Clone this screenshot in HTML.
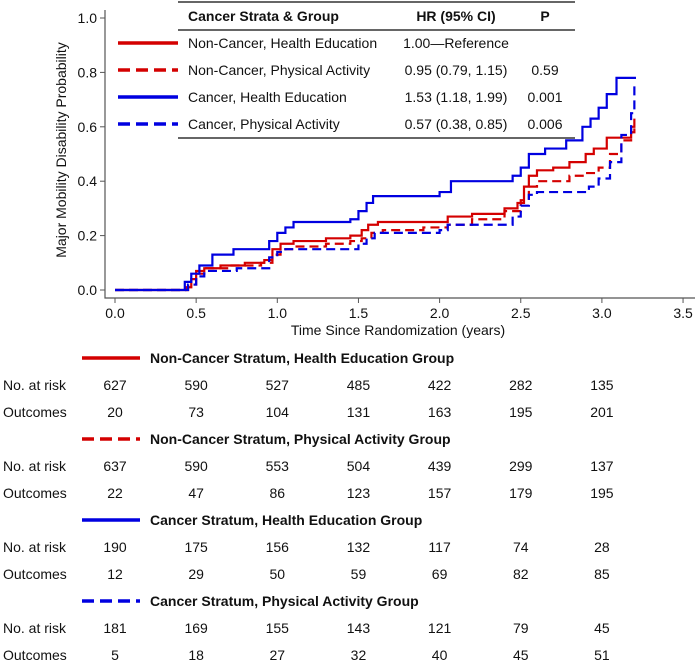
<!DOCTYPE html>
<html><head><meta charset="utf-8"><style>
body{margin:0;background:#fff;width:700px;height:663px;overflow:hidden;font-family:"Liberation Sans",Arial,sans-serif}
svg text{font-family:"Liberation Sans",Arial,sans-serif;fill:#111}
</style></head><body>
<svg id="c" width="700" height="663" viewBox="0 0 700 663"></svg>
<script>
const xTicks=[0,0.5,1,1.5,2,2.5,3,3.5];
const xTickLabels=["0.0","0.5","1.0","1.5","2.0","2.5","3.0","3.5"];
const yTicks=[0,0.2,0.4,0.6,0.8,1.0];
const yTickLabels=["0.0","0.2","0.4","0.6","0.8","1.0"];
const ncHeT=[0,0.44,0.47,0.5,0.55,0.65,0.8,0.92,0.97,1.02,1.1,1.3,1.45,1.52,1.56,1.62,1.8,2.0,2.05,2.2,2.4,2.48,2.52,2.55,2.6,2.7,2.8,2.85,2.9,2.95,3.03,3.18,3.2];
const ncHeY=[0,0.01,0.04,0.07,0.08,0.09,0.1,0.11,0.15,0.17,0.18,0.19,0.2,0.22,0.24,0.25,0.25,0.25,0.27,0.28,0.3,0.32,0.38,0.42,0.44,0.45,0.47,0.47,0.5,0.52,0.56,0.6,0.63];
const ncPaT=[0,0.45,0.5,0.55,0.7,0.9,0.97,1.02,1.1,1.3,1.45,1.52,1.58,1.65,1.9,2.05,2.2,2.4,2.5,2.55,2.6,2.8,2.9,2.98,3.05,3.12,3.18,3.2];
const ncPaY=[0,0.02,0.06,0.08,0.09,0.1,0.13,0.15,0.16,0.17,0.18,0.19,0.21,0.22,0.23,0.24,0.26,0.29,0.33,0.38,0.4,0.42,0.43,0.45,0.5,0.55,0.58,0.6];
const cHeT=[0,0.43,0.47,0.52,0.6,0.73,0.95,1.0,1.05,1.1,1.45,1.5,1.55,1.59,1.69,2.0,2.07,2.39,2.45,2.5,2.55,2.65,2.78,2.85,2.88,2.93,2.98,3.03,3.09,3.21];
const cHeY=[0,0.03,0.06,0.09,0.13,0.15,0.18,0.21,0.23,0.25,0.26,0.29,0.32,0.345,0.345,0.36,0.4,0.4,0.42,0.45,0.5,0.52,0.55,0.55,0.6,0.63,0.67,0.72,0.78,0.78];
const cPaT=[0,0.45,0.5,0.55,0.75,0.95,1.0,1.05,1.5,1.55,1.6,2.0,2.05,2.45,2.5,2.55,2.6,2.85,2.92,2.98,3.05,3.12,3.18,3.2];
const cPaY=[0,0.02,0.05,0.07,0.08,0.12,0.14,0.15,0.17,0.19,0.21,0.22,0.24,0.27,0.31,0.35,0.36,0.36,0.38,0.41,0.47,0.57,0.65,0.75];
const groupNames=["Non-Cancer, Health Education","Non-Cancer, Physical Activity","Cancer, Health Education","Cancer, Physical Activity"];
const hrText=["1.00\u2014Reference","0.95 (0.79, 1.15)","1.53 (1.18, 1.99)","0.57 (0.38, 0.85)"];
const pText=["","0.59","0.001","0.006"];
const strataNames=["Non-Cancer Stratum, Health Education Group","Non-Cancer Stratum, Physical Activity Group","Cancer Stratum, Health Education Group","Cancer Stratum, Physical Activity Group"];
const atRisk=[[627,590,527,485,422,282,135],[637,590,553,504,439,299,137],[190,175,156,132,117,74,28],[181,169,155,143,121,79,45]];
const outcomes=[[20,73,104,131,163,195,201],[22,47,86,123,157,179,195],[12,29,50,59,69,82,85],[5,18,27,32,40,45,51]];

const NS="http://www.w3.org/2000/svg",svg=document.getElementById('c');
const X=v=>115+v*162.3, Y=v=>290-v*272;
function el(t,a,txt){const e=document.createElementNS(NS,t);for(const k in a)e.setAttribute(k,a[k]);if(txt!==undefined)e.textContent=txt;svg.appendChild(e);return e;}
const colors=["#d40000","#d40000","#0000e0","#0000e0"], dashes=["","9,5","","9,5"];
let a=el('path',{d:'M105,10V298H695',fill:'none',stroke:'#555','stroke-width':1.2});

xTicks.forEach((t,i)=>{let l=el('line',{x1:X(t),x2:X(t),y1:298,y2:303,stroke:'#555'});
let tx=el('text',{x:X(t),y:318,'font-size':14,'text-anchor':'middle'},xTickLabels[i]);});
yTicks.forEach((t,i)=>{let l=el('line',{x1:100,x2:105,y1:Y(t),y2:Y(t),stroke:'#555'});
let tx=el('text',{x:97,y:Y(t)+5,'font-size':14,'text-anchor':'end'},yTickLabels[i]);});
let xt=el('text',{x:398,y:335,'font-size':14,'text-anchor':'middle'},'Time Since Randomization (years)');
let yt=el('text',{x:0,y:0,'font-size':14,'text-anchor':'middle',transform:'translate(66,150) rotate(-90)'},'Major Mobility Disability Probability');
const series=[[ncHeT,ncHeY],[ncPaT,ncPaY],[cHeT,cHeY],[cPaT,cPaY]];
const sn=['curve-noncancer-he','curve-noncancer-pa','curve-cancer-he','curve-cancer-pa'];
series.forEach((s,i)=>{let d='M'+X(s[0][0])+','+Y(s[1][0]);for(let j=1;j<s[0].length;j++){d+='H'+X(s[0][j])+'V'+Y(s[1][j]);}
let p=el('path',{d:d,fill:'none',stroke:colors[i],'stroke-width':2.2,'stroke-dasharray':dashes[i]});});
let lg=[el('line',{x1:178,x2:575,y1:2,y2:2,stroke:'#333','stroke-width':1.5}),el('line',{x1:178,x2:575,y1:30,y2:30,stroke:'#333','stroke-width':1.5}),el('line',{x1:178,x2:575,y1:138,y2:138,stroke:'#333','stroke-width':1.5})];
lg.forEach(l=>{});
[['Cancer Strata & Group',188,'start'],['HR (95% CI)',456,'middle'],['P',545,'middle']].forEach(h=>{let t=el('text',{x:h[1],y:21,'font-size':14,'font-weight':'bold','text-anchor':h[2]},h[0]);});
groupNames.forEach((g,i)=>{const y=43+i*27;
let l=el('line',{x1:118,x2:178,y1:y,y2:y,stroke:colors[i],'stroke-width':3.5,'stroke-dasharray':dashes[i]?'12,6':''});
let t=el('text',{x:188,y:y+5,'font-size':14},g);
let h=el('text',{x:456,y:y+5,'font-size':14,'text-anchor':'middle'},hrText[i]);
let p=el('text',{x:545,y:y+5,'font-size':14,'text-anchor':'middle'},pText[i]);});
strataNames.forEach((s,i)=>{const y0=358+i*81;
let l=el('line',{x1:82,x2:140,y1:y0,y2:y0,stroke:colors[i],'stroke-width':3.5,'stroke-dasharray':dashes[i]?'12,6':''});
let t=el('text',{x:150,y:y0+5,'font-size':14,'font-weight':'bold'},s);
[['No. at risk',atRisk[i]],['Outcomes',outcomes[i]]].forEach((r,k)=>{const y=y0+27+k*27+5;
let lb=el('text',{x:3,y:y,'font-size':14},r[0]);
r[1].forEach((v,j)=>{let c=el('text',{x:X(j*0.5),y:y,'font-size':14,'text-anchor':'middle'},v);});});});
</script>
</body></html>
